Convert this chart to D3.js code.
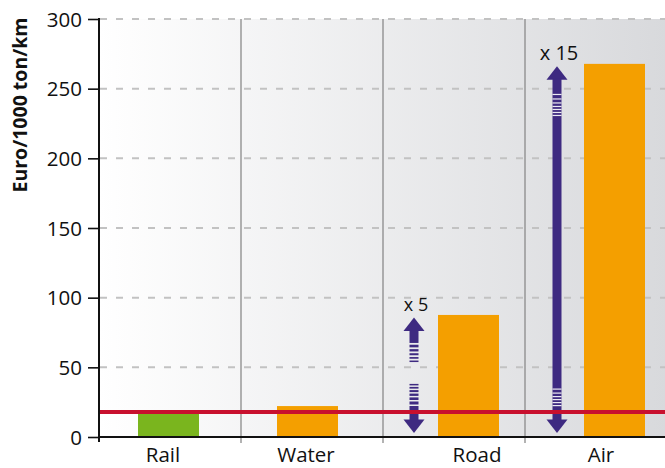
<!DOCTYPE html>
<html>
<head>
<meta charset="utf-8">
<script src="https://cdn.jsdelivr.net/npm/d3@7"></script>
<style>
  html, body { margin: 0; padding: 0; background: #ffffff; }
  svg { display: block; }
  text { font-family: "Open Sans", "Noto Sans", sans-serif; fill: #111; }
</style>
</head>
<body>
<svg id="chart" width="665" height="468"></svg>
<script>
// ---------------- data ----------------
const categories = ["Rail", "Water", "Road", "Air"];
const values = [18, 22.2, 87.6, 267.8];
const barColors = ["#7ab51e", "#f49f00", "#f49f00", "#f49f00"];
const yTicks = [0, 50, 100, 150, 200, 250, 300];
const yTitle = "Euro/1000 ton/km";
const multiplierCats = ["Road", "Air"];
const multiplierLabels = ["x 5", "x 15"];

// ---------------- layout (styling only) ----------------
const W = 665, H = 468;
const plot = { left: 99, right: 667, top: 19, bottom: 437 };
const barWidth = 61;
const barOffset = [39, 36, 55, 59];          // bar left edge relative to column start
const labelOffset = [64, 65, 94, 76];        // label centre relative to column start
const arrowOffset = { Road: 31, Air: 32 };   // arrow centre relative to column start
const purple = "#3e2a81";

const svg = d3.select("#chart");
const defs = svg.append("defs");
const grad = defs.append("linearGradient").attr("id", "bg").attr("x1", "0").attr("x2", "1").attr("y1", "0").attr("y2", "0");
grad.append("stop").attr("offset", "0").attr("stop-color", "#ffffff");
grad.append("stop").attr("offset", "1").attr("stop-color", "#d8d9dc");

const x = d3.scaleBand().domain(categories).range([plot.left, plot.right]).padding(0);
const y = d3.scaleLinear().domain([0, 300]).range([plot.bottom, plot.top]);

// background
svg.append("rect").attr("x", plot.left).attr("y", plot.top)
  .attr("width", plot.right - plot.left).attr("height", plot.bottom - plot.top)
  .attr("fill", "url(#bg)");

// dashed gridlines
svg.append("g").selectAll("line").data(yTicks.filter(d => d > 0)).join("line")
  .attr("x1", plot.left + 1).attr("x2", W)
  .attr("y1", d => y(d)).attr("y2", d => y(d))
  .attr("stroke", "#c2c2c2").attr("stroke-width", 2).attr("stroke-dasharray", "7,9");

// column dividers
svg.append("g").selectAll("line").data(categories.slice(1)).join("line")
  .attr("x1", d => x(d)).attr("x2", d => x(d))
  .attr("y1", plot.top).attr("y2", plot.bottom + 6)
  .attr("stroke", "#8a8a8a").attr("stroke-width", 1.3);

// bars
svg.append("g").selectAll("rect").data(categories).join("rect")
  .attr("x", (d, i) => x(d) + barOffset[i])
  .attr("width", barWidth)
  .attr("y", (d, i) => y(values[i]))
  .attr("height", (d, i) => y(0) - y(values[i]))
  .attr("fill", (d, i) => barColors[i]);

// arrows
function stripes(g, cx, w, start, thick, gap, dir) {
  let pos = start;
  thick.forEach(t => {
    pos += dir * gap;
    const y0 = dir > 0 ? pos : pos - t;
    g.append("rect").attr("x", cx - w / 2).attr("width", w).attr("y", y0).attr("height", t).attr("fill", purple);
    pos += dir * t;
  });
}
function head(g, cx, tipY, dir) {
  const hw = 10.5, hh = 13.5;
  const baseY = tipY - dir * hh;
  g.append("path")
    .attr("d", `M${cx},${tipY} L${cx + hw},${baseY} L${cx - hw},${baseY} Z`)
    .attr("fill", purple);
}
const arrowG = svg.append("g");
const shaftW = 9;
multiplierCats.forEach((cat, k) => {
  const i = categories.indexOf(cat);
  const cx = x(cat) + arrowOffset[cat];
  const topTip = y(values[i]) + 2.5;
  const botTip = y(0) - 4;
  const g = arrowG.append("g");
  head(g, cx, topTip, -1);
  head(g, cx, botTip, 1);
  if (cat === "Road") {
    g.append("rect").attr("x", cx - shaftW / 2).attr("width", shaftW)
      .attr("y", topTip + 13).attr("height", 12.5).attr("fill", purple);
    stripes(g, cx, shaftW, topTip + 25.5, [2.6, 2.3, 2.0, 1.7, 1.5], 1.8, 1);
    g.append("rect").attr("x", cx - shaftW / 2).attr("width", shaftW)
      .attr("y", botTip - 27).attr("height", 14).attr("fill", purple);
    stripes(g, cx, shaftW, botTip - 27, [3.0, 2.6, 2.3, 2.0, 1.7, 1.5], 1.5, -1);
  } else {
    g.append("rect").attr("x", cx - shaftW / 2).attr("width", shaftW)
      .attr("y", topTip + 12).attr("height", botTip - topTip - 24).attr("fill", purple);
    const up = [27.5, 32, 36, 39.5, 42.5, 45.5, 48.5];
    up.forEach(o => g.append("rect").attr("x", cx - shaftW / 2).attr("width", shaftW)
      .attr("y", topTip + o).attr("height", 1.2).attr("fill", "#ffffff").attr("opacity", 0.9));
    const down = [28, 31, 34, 37, 40.5, 44.5];
    down.forEach(o => g.append("rect").attr("x", cx - shaftW / 2).attr("width", shaftW)
      .attr("y", botTip - o).attr("height", 1.2).attr("fill", "#ffffff").attr("opacity", 0.9));
  }
  g.append("text")
    .attr("x", cx + 2).attr("y", topTip - 6)
    .attr("text-anchor", "middle")
    .attr("font-size", cat === "Road" ? 18 : 20)
    .text(multiplierLabels[k]);
});

// reference line (rail level)
svg.append("line")
  .attr("x1", plot.left + 1).attr("x2", W)
  .attr("y1", y(values[0])).attr("y2", y(values[0]))
  .attr("stroke", "#c8102e").attr("stroke-width", 4);

// y axis
const yAxis = d3.axisLeft(y).tickValues(yTicks).tickSize(11).tickPadding(6).tickFormat(d3.format("d"));
const yg = svg.append("g").attr("transform", `translate(${plot.left},0)`).call(yAxis);
yg.select(".domain").remove();
yg.selectAll(".tick line").attr("stroke", "#111").attr("stroke-width", 1.6);
yg.selectAll(".tick text").attr("font-size", 20.5).attr("font-family", "'Open Sans', sans-serif").attr("fill", "#111").attr("dy", "0.35em");
svg.append("line").attr("x1", plot.left).attr("x2", plot.left)
  .attr("y1", plot.top - 1).attr("y2", plot.bottom + 5)
  .attr("stroke", "#111").attr("stroke-width", 2);

// x axis line
svg.append("line").attr("x1", plot.left).attr("x2", W)
  .attr("y1", plot.bottom).attr("y2", plot.bottom)
  .attr("stroke", "#111").attr("stroke-width", 2);

// category labels
svg.append("g").selectAll("text").data(categories).join("text")
  .attr("x", (d, i) => x(d) + labelOffset[i])
  .attr("y", 462)
  .attr("text-anchor", "middle")
  .attr("font-size", 20.5)
  .text(d => d);

// y title
svg.append("text")
  .attr("transform", "translate(27,105) rotate(-90)")
  .attr("text-anchor", "middle")
  .attr("font-size", 19.5)
  .attr("font-weight", "bold")
  .text(yTitle);
</script>
</body>
</html>
